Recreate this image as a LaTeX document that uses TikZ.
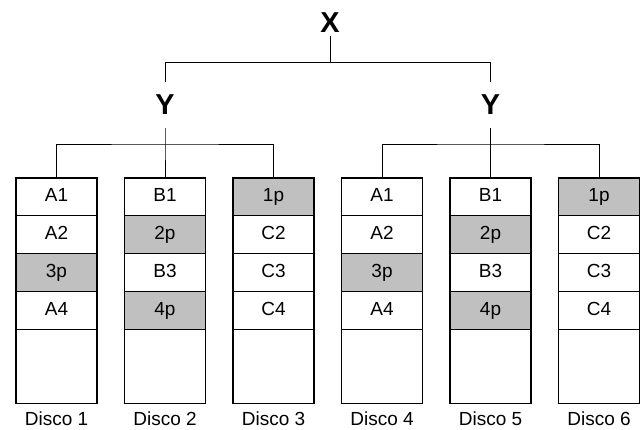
\documentclass[tikz,border=0pt]{standalone}
\usepackage{fontspec}
\setmainfont{Liberation Sans}
\usetikzlibrary{positioning}
\definecolor{paritygray}{RGB}{192,192,192}

\tikzset{
  cell/.style={draw, line width=0.9pt, minimum width=2.025cm, minimum height=0.945cm,
               inner sep=0pt, text height=0.716em, text depth=0pt,
               font=\fontsize{13.5}{16}\selectfont},
  par/.style={cell, fill=paritygray},
  spare/.style={draw, line width=0.9pt, minimum width=2.025cm, minimum height=1.85cm, inner sep=0pt},
  raid/.style={font=\fontsize{20.5}{24}\selectfont\bfseries, inner sep=0pt},
  disklabel/.style={font=\fontsize{13.5}{16}\selectfont, inner sep=0pt,
                    text height=0.716em, text depth=0pt},
  wire/.style={line width=0.7pt}
}

\begin{document}
\begin{tikzpicture}[x=0.025cm, y=-0.025cm]
          \useasboundingbox (0,0) rectangle (642,429);

          % disks
          \foreach \d/\x/\cells in {1/56.5/{A1/cell,A2/cell,3p/par,A4/cell},
                                    2/165/{B1/cell,2p/par,B3/cell,4p/par},
                                    3/273.5/{1p/par,C2/cell,C3/cell,C4/cell},
                                    4/382/{A1/cell,A2/cell,3p/par,A4/cell},
                                    5/490.5/{B1/cell,2p/par,B3/cell,4p/par},
                                    6/599/{1p/par,C2/cell,C3/cell,C4/cell}} {
            \foreach \t/\s [count=\r] in \cells
              \node[\s] (d\d c\r) at (\x, {159.1+37.8*\r}) {\t};
            \node[spare] (d\d c5) at (\x, 366.2) {};
            \node[disklabel] (lab\d) at (\x, 420.5) {Disco \d};
          }

          % tree
          \node[raid, minimum height=0.65cm] (x) at (330, 22.5) {X};
          \node[raid, minimum height=1.15cm] (yl) at (165, 105) {Y};
          \node[raid, minimum height=1.15cm] (yr) at (490.5, 105) {Y};

          \coordinate (xj) at (330, 62.7);
          \coordinate (lj) at (165, 144);
          \coordinate (rj) at (490.5, 144);

          \draw[wire] (x) -- (xj);
          \draw[wire] (yl) |- (xj) -| (yr);

          \draw[wire] (yl) -- (lj) -- (d2c1);
          \draw[wire] (d1c1) |- (lj) -| (d3c1);

          \draw[wire] (yr) -- (rj) -- (d5c1);
          \draw[wire] (d4c1) |- (rj) -| (d6c1);
\end{tikzpicture}
\end{document}
